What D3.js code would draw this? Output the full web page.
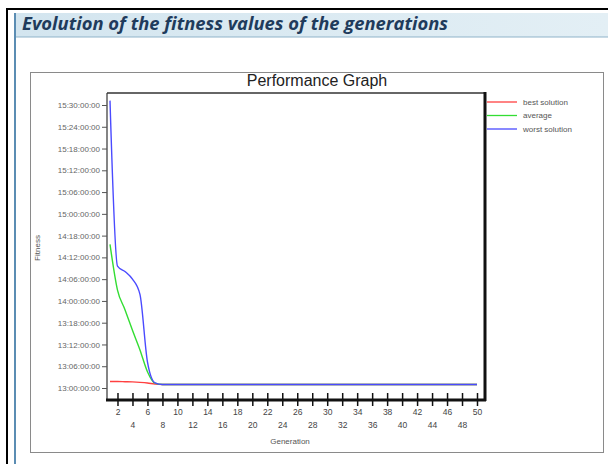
<!DOCTYPE html>
<html>
<head>
<meta charset="utf-8">
<script src="https://cdn.jsdelivr.net/npm/d3@7"></script>
<style>
  html, body { margin: 0; padding: 0; background: #fff; }
  svg { display: block; }
</style>
</head>
<body>
<svg id="chart" width="608" height="464"></svg>
<script>
// ---------------- data ----------------
const generations = d3.range(1, 51);
const yTickLabels = ["13:00:00:00","13:06:00:00","13:12:00:00","13:18:00:00","14:00:00:00","14:06:00:00","14:12:00:00","14:18:00:00","15:00:00:00","15:06:00:00","15:12:00:00","15:18:00:00","15:24:00:00","15:30:00:00"];
const xTickValues = d3.range(2, 51, 2);
const bestHead  = [0.30, 0.30, 0.29, 0.28, 0.26, 0.23, 0.18];
const avgHead   = [6.6, 4.5, 3.6, 2.65, 1.75, 0.75, 0.22];
const worstHead = [13.2, 5.6, 5.35, 5.0, 4.3, 1.2, 0.24];
const tailValue = 0.16;
const seriesNames = ["best solution", "average", "worst solution"];
const seriesColors = ["#ff4040", "#33dd33", "#4a4aff"];

function fullSeries(head) {
  return generations.map((g, i) => ({ g, v: i < head.length ? head[i] : tailValue }));
}
const series = [fullSeries(bestHead), fullSeries(avgHead), fullSeries(worstHead)];

// ---------------- drawing ----------------
const svg = d3.select("#chart");

// page frame
svg.append("rect").attr("x", 0).attr("y", 0).attr("width", 608).attr("height", 464).attr("fill", "#fff");
svg.append("line").attr("x1", 7).attr("x2", 608).attr("y1", 9).attr("y2", 9).attr("stroke", "#000").attr("stroke-width", 2);
svg.append("line").attr("x1", 7).attr("x2", 7).attr("y1", 8).attr("y2", 464).attr("stroke", "#000").attr("stroke-width", 2);

// banner
const grad = svg.append("defs").append("linearGradient").attr("id", "bann").attr("x1", 0).attr("x2", 1).attr("y1", 0).attr("y2", 0);
grad.append("stop").attr("offset", "0%").attr("stop-color", "#d3e5ef");
grad.append("stop").attr("offset", "100%").attr("stop-color", "#e3eff5");
svg.append("rect").attr("x", 14).attr("y", 13).attr("width", 594).attr("height", 24).attr("fill", "url(#bann)");
svg.append("line").attr("x1", 14).attr("x2", 608).attr("y1", 37).attr("y2", 37).attr("stroke", "#8fb3c9").attr("stroke-width", 1);
svg.append("line").attr("x1", 15).attr("x2", 15).attr("y1", 13).attr("y2", 464).attr("stroke", "#5b8db3").attr("stroke-width", 2);
svg.append("text").attr("x", 22).attr("y", 30)
  .attr("font-family", "'Open Sans', sans-serif").attr("font-weight", "bold").attr("font-style", "italic")
  .attr("font-size", 17).attr("fill", "#1f3b5c")
  .attr("textLength", 426).attr("lengthAdjust", "spacingAndGlyphs")
  .text("Evolution of the fitness values of the generations");

// chart frame
svg.append("rect").attr("x", 30.5).attr("y", 72.5).attr("width", 573).attr("height", 380)
  .attr("fill", "#fff").attr("stroke", "#8a8a8a").attr("stroke-width", 1);

// chart title
svg.append("text").attr("x", 317).attr("y", 86).attr("text-anchor", "middle")
  .attr("font-family", "'Liberation Sans', Arial, sans-serif").attr("font-size", 16).attr("fill", "#222")
  .text("Performance Graph");

const L = 107, R = 485, T = 93, B = 400;
const x = d3.scaleLinear().domain([1, 50]).range([110, 477]);
const y = d3.scaleLinear().domain([0, 13]).range([388, 105]);

// plot box
svg.append("rect").attr("x", L).attr("y", T).attr("width", R - L).attr("height", B - T).attr("fill", "#fff");
svg.append("line").attr("x1", L).attr("x2", R).attr("y1", T).attr("y2", T).attr("stroke", "#333").attr("stroke-width", 1.5);
svg.append("line").attr("x1", L).attr("x2", L).attr("y1", T).attr("y2", B).attr("stroke", "#333").attr("stroke-width", 1.2);

// lines
const line = d3.line().x(d => x(d.g)).y(d => y(d.v)).curve(d3.curveMonotoneX);
series.forEach((s, i) => {
  svg.append("path").datum(s).attr("d", line).attr("fill", "none")
    .attr("stroke", seriesColors[i]).attr("stroke-width", 1.4);
});

// right border and bottom axis line
svg.append("line").attr("x1", R).attr("x2", R).attr("y1", T - 1).attr("y2", B + 1).attr("stroke", "#111").attr("stroke-width", 3);
svg.append("line").attr("x1", L - 1).attr("x2", R + 1).attr("y1", B).attr("y2", B).attr("stroke", "#111").attr("stroke-width", 3);

// y axis
const yAxis = d3.axisLeft(y).tickValues(d3.range(yTickLabels.length))
  .tickFormat(i => yTickLabels[i]).tickSize(5).tickPadding(2);
const gy = svg.append("g").attr("transform", `translate(${L},0)`).call(yAxis);
gy.select(".domain").remove();
gy.selectAll(".tick line").attr("stroke", "#555");
gy.selectAll(".tick text").attr("font-family", "'Liberation Sans', Arial, sans-serif")
  .attr("font-size", 8).attr("fill", "#666");

// x axis
const xAxis = d3.axisBottom(x).tickValues(xTickValues).tickSize(13).tickPadding(0);
const gx = svg.append("g").attr("transform", `translate(0,${B - 7})`).call(xAxis);
gx.select(".domain").remove();
gx.selectAll(".tick line").attr("stroke", "#111").attr("stroke-width", 1.5);
gx.selectAll(".tick text")
  .attr("font-family", "'Liberation Sans', Arial, sans-serif").attr("font-size", 8.5).attr("fill", "#444")
  .attr("y", d => (d % 4 === 2) ? 19 : 32).attr("dy", "0.32em");

// axis titles
svg.append("text").attr("x", 290).attr("y", 444).attr("text-anchor", "middle")
  .attr("font-family", "'Liberation Sans', Arial, sans-serif").attr("font-size", 8).attr("fill", "#555")
  .text("Generation");
svg.append("text").attr("transform", "translate(40,248) rotate(-90)").attr("text-anchor", "middle")
  .attr("font-family", "'Liberation Sans', Arial, sans-serif").attr("font-size", 8).attr("fill", "#555")
  .text("Fitness");

// legend
const legendY = d3.scalePoint().domain(seriesNames).range([102, 129]);
seriesNames.forEach((name, i) => {
  svg.append("line").attr("x1", R + 2).attr("x2", 517).attr("y1", legendY(name)).attr("y2", legendY(name))
    .attr("stroke", seriesColors[i]).attr("stroke-width", 1.3);
  svg.append("text").attr("x", 523).attr("y", legendY(name)).attr("dy", "0.35em")
    .attr("font-family", "'Liberation Sans', Arial, sans-serif").attr("font-size", 8).attr("fill", "#555")
    .text(name);
});
</script>
</body>
</html>
